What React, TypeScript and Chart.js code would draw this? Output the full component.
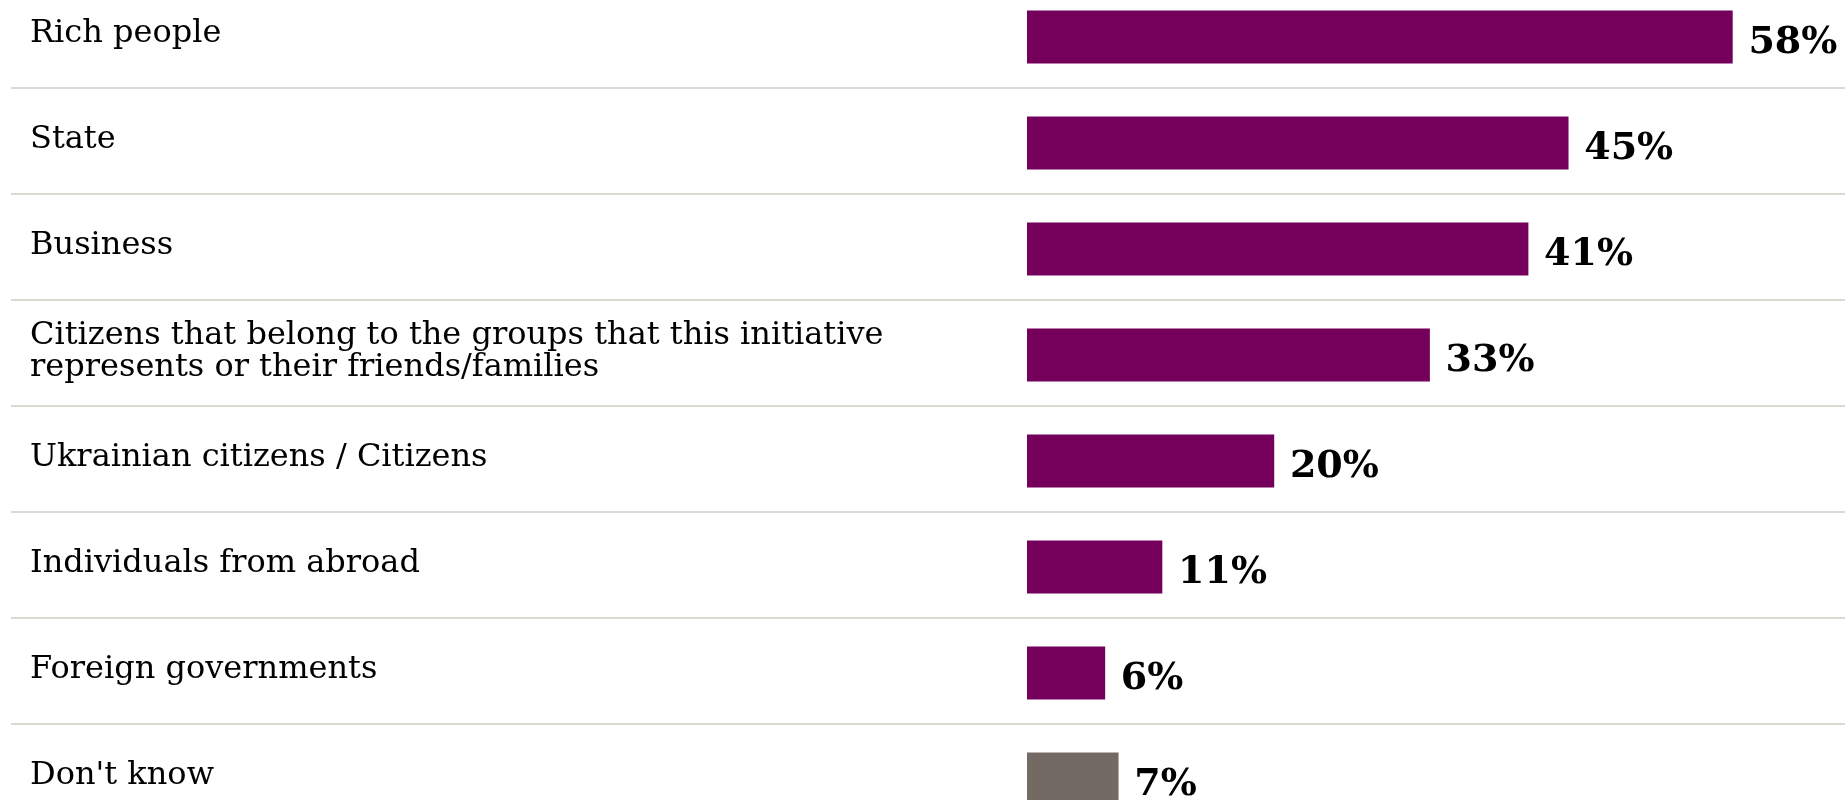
import React, { useEffect, useRef } from "react";
import { Chart, registerables } from "chart.js";

Chart.register(...registerables);

const categories: (string | string[])[] = [
  "Rich people",
  "State",
  "Business",
  ["Citizens that belong to the groups that this initiative", "represents or their friends/families"],
  "Ukrainian citizens / Citizens",
  "Individuals from abroad",
  "Foreign governments",
  "Don't know",
];

const values = [58, 44.5, 41.2, 33.1, 20.3, 11.1, 6.4, 7.5];

const valueLabels = ["58%", "45%", "41%", "33%", "20%", "11%", "6%", "7%"];

const barColors = [
  "#74005c",
  "#74005c",
  "#74005c",
  "#74005c",
  "#74005c",
  "#74005c",
  "#74005c",
  "#736a64",
];

const X_MAX = 67.26;

export default function App() {
  const ref = useRef<HTMLCanvasElement>(null);

  useEffect(() => {
    const canvas = ref.current;
    if (!canvas) return;

    const rowLines = {
      id: "rowLines",
      beforeDatasetsDraw(chart: any) {
        const { ctx } = chart;
        const ys = chart.scales.y;
        ctx.save();
        ctx.strokeStyle = "#dcd9d3";
        ctx.lineWidth = 2;
        for (let i = 1; i < categories.length; i++) {
          const yy = Math.round((ys.getPixelForTick(i - 1) + ys.getPixelForTick(i)) / 2) - 2;
          ctx.beginPath();
          ctx.moveTo(11, yy);
          ctx.lineTo(chart.width, yy);
          ctx.stroke();
        }
        ctx.restore();
      },
    };

    const valueText = {
      id: "valueText",
      afterDatasetsDraw(chart: any) {
        const { ctx } = chart;
        const meta = chart.getDatasetMeta(0);
        ctx.save();
        ctx.fillStyle = "#000";
        ctx.font = "bold 38px 'DejaVu Serif', serif";
        ctx.textAlign = "left";
        ctx.textBaseline = "alphabetic";
        meta.data.forEach((bar: any, i: number) => {
          ctx.fillText(valueLabels[i], bar.x + 16, bar.y + 16);
        });
        ctx.restore();
      },
    };

    const chart = new Chart(canvas, {
      type: "bar",
      data: {
        labels: categories,
        datasets: [
          {
            data: values,
            backgroundColor: barColors,
            borderWidth: 0,
            barThickness: 52.5,
          },
        ],
      },
      options: {
        indexAxis: "y",
        responsive: false,
        maintainAspectRatio: false,
        animation: false,
        layout: { padding: { left: 30, right: 0, top: 0, bottom: 0 } },
        plugins: {
          legend: { display: false },
          tooltip: { enabled: false },
        },
        scales: {
          x: { display: false, min: 0, max: X_MAX },
          y: {
            position: "left",
            grid: { display: false },
            border: { display: false },
            ticks: {
              crossAlign: "far",
              color: "#000",
              autoSkip: false,
              labelOffset: -3.5,
              padding: 0,
              font: { family: "'DejaVu Serif', serif", size: 32, lineHeight: 1.01 },
            },
            afterFit: (s: any) => {
              s.width = 997;
              s.paddingTop = 0;
              s.paddingBottom = 0;
            },
          },
        },
      },
      plugins: [rowLines, valueText],
    } as any);

    return () => chart.destroy();
  }, []);

  return (
    <div
      style={{
        position: "fixed",
        left: 0,
        top: 0,
        width: 1845,
        height: 800,
        overflow: "hidden",
        background: "#fff",
      }}
    >
      <canvas
        ref={ref}
        width={1845}
        height={848}
        style={{ position: "absolute", left: 0, top: -16, width: 1845, height: 848 }}
      />
    </div>
  );
}
